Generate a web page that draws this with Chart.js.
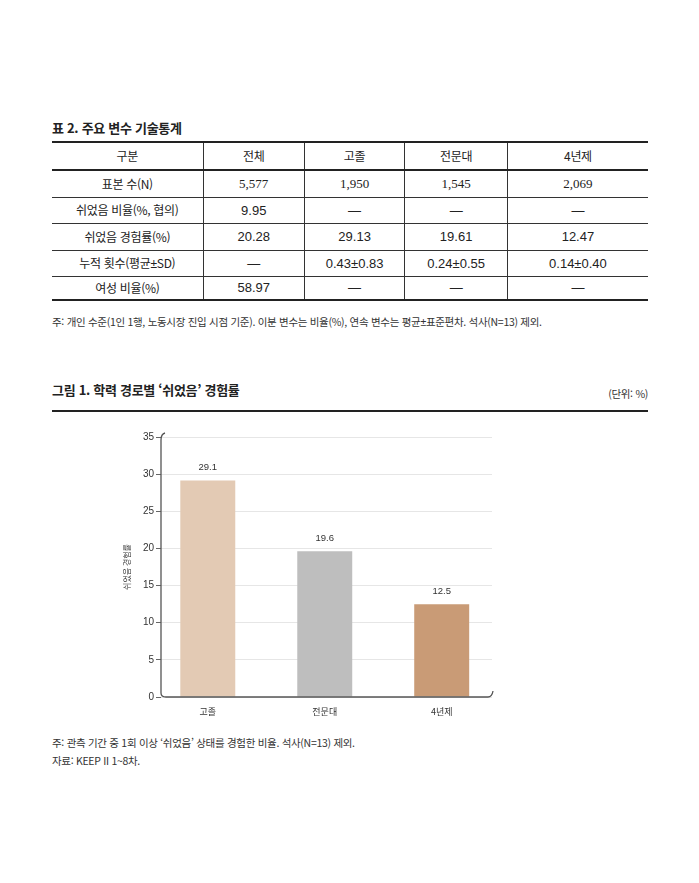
<!DOCTYPE html>
<html lang="ko">
<head>
<meta charset="utf-8">
<script src="https://cdn.jsdelivr.net/npm/chart.js@4.4.1/dist/chart.umd.min.js"></script>
<style>
  body { margin: 0; background: #fff; font-family: "Noto Sans CJK KR", "Noto Sans", sans-serif; color: #222; }
  .abs { position: absolute; white-space: nowrap; }
  .ttl { font-weight: bold; font-size: 13px; letter-spacing: -0.3px; }
  .note { font-size: 10.5px; color: #333; letter-spacing: -0.3px; }
  .pm { font-family: "Liberation Sans", sans-serif; }
  table { position: absolute; left: 52px; top: 141px; width: 596px; border-collapse: collapse; font-size: 12px; letter-spacing: -0.3px; }
  td { text-align: center; border-left: 1px solid #333; border-bottom: 1px solid #333; padding: 0; line-height: 1; }
  td:first-child { border-left: none; }
  td.num { font-family: "Liberation Sans Narrow", "Liberation Sans", sans-serif; font-size: 13px; letter-spacing: 0; }
  tr.head td { border-bottom: 2px solid #222; }
  tr.last td { border-bottom: 2px solid #222; }
  #chartBox { position: absolute; left: 100px; top: 425px; width: 400px; height: 300px; }
</style>
</head>
<body>
<div class="abs ttl" style="left:52px; top:118px;">표 2. 주요 변수 기술통계</div>
<table id="tbl"></table>
<div class="abs note" style="left:52px; top:314px;">주: 개인 수준(1인 1행, 노동시장 진입 시점 기준). 이분 변수는 비율(%), 연속 변수는 평균<span class="pm">±</span>표준편차. 석사(N=13) 제외.</div>

<div class="abs ttl" style="left:52px; top:380px;">그림 1. 학력 경로별 ‘쉬었음’ 경험률</div>
<div class="abs note" style="right:51px; top:386px;">(단위: %)</div>
<div class="abs" style="left:52px; top:410px; width:596px; height:2px; background:#222;"></div>

<div id="chartBox"><canvas id="canvasBar" width="400" height="300"></canvas></div>

<div class="abs note" style="left:52px; top:735px;">주: 관측 기간 중 1회 이상 ‘쉬었음’ 상태를 경험한 비율. 석사(N=13) 제외.</div>
<div class="abs note" style="left:52px; top:753px;">자료: KEEP II 1~8차.</div>

<script>
// 표 데이터
var tableHead = ['구분', '전체', '고졸', '전문대', '4년제'];
var rowNames = ['표본 수(N)', '쉬었음 비율(%, 협의)', '쉬었음 경험률(%)', '누적 횟수(평균<span class="pm">±</span>SD)', '여성 비율(%)'];
var colTotal = ['5,577', '9.95', '20.28', '—', '58.97'];
var colHigh = ['1,950', '—', '29.13', '0.43±0.83', '—'];
var colCollege = ['1,545', '—', '19.61', '0.24±0.55', '—'];
var colUniv = ['2,069', '—', '12.47', '0.14±0.40', '—'];

// 그림 데이터
var labels = ['고졸', '전문대', '4년제'];
var rates = [29.13, 19.61, 12.47];
var yTicks = [0, 5, 10, 15, 20, 25, 30, 35];

function buildTable() {
  var widths = [152, 101, 100, 102, 141];
  var heights = [28, 27, 26, 27, 26, 24];
  var tbl = document.getElementById('tbl');
  tbl.style.borderTop = '2px solid #222';
  var html = '<tr class="head" style="height:' + heights[0] + 'px">';
  tableHead.forEach(function (h, i) {
    html += '<td style="width:' + widths[i] + 'px">' + h + '</td>';
  });
  html += '</tr>';
  rowNames.forEach(function (name, r) {
    var cls = r === rowNames.length - 1 ? ' class="last"' : '';
    html += '<tr' + cls + ' style="height:' + heights[r + 1] + 'px">';
    html += '<td>' + name + '</td>';
    [colTotal, colHigh, colCollege, colUniv].forEach(function (col) {
      var serif = r === 0 ? ' style="font-family:\'Liberation Serif\',serif"' : '';
      html += '<td class="num"' + serif + '>' + col[r] + '</td>';
    });
    html += '</tr>';
  });
  tbl.innerHTML = html;
}
buildTable();

// 축 선 (끝이 살짝 휘어진 모양)
var axisLines = {
  id: 'axisLines',
  afterDraw: function (chart) {
    var a = chart.chartArea, c = chart.ctx;
    c.save();
    c.strokeStyle = '#555';
    c.lineWidth = 1.3;
    c.beginPath();
    c.moveTo(a.left + 4, a.top - 4);
    c.quadraticCurveTo(a.left, a.top - 3, a.left, a.top + 3);
    c.lineTo(a.left, a.bottom - 4);
    c.quadraticCurveTo(a.left, a.bottom, a.left + 5, a.bottom);
    c.lineTo(a.right - 4, a.bottom);
    c.quadraticCurveTo(a.right, a.bottom, a.right + 1, a.bottom - 6);
    c.stroke();
    c.restore();
  }
};

// 막대 위 값 표시
var barValues = {
  id: 'barValues',
  afterDatasetsDraw: function (chart) {
    var c = chart.ctx;
    var meta = chart.getDatasetMeta(0);
    c.save();
    c.font = '9.5px "Liberation Sans Narrow", "Liberation Sans", sans-serif';
    c.fillStyle = '#333';
    c.textAlign = 'center';
    c.textBaseline = 'bottom';
    meta.data.forEach(function (bar, i) {
      c.fillText(rates[i].toFixed(1), bar.x, bar.y - 8);
    });
    c.restore();
  }
};

var ctx = document.getElementById('canvasBar').getContext('2d');
var barChart = new Chart(ctx, {
  type: 'bar',
  data: {
    datasets: [{
      data: rates.map(function (v, i) { return { x: i, y: v }; }),
      backgroundColor: ['#E3CAB4', '#BEBEBE', '#C99B76'],
      barPercentage: 0.47,
      categoryPercentage: 1
    }]
  },
  options: {
    responsive: false,
    animation: false,
    devicePixelRatio: 1,
    layout: { padding: { top: 12, right: 8, left: 0, bottom: 0 } },
    plugins: { legend: { display: false }, tooltip: { enabled: false } },
    scales: {
      x: {
        type: 'linear',
        offset: false,
        min: -0.4, max: 2.43,
        grid: { display: false },
        border: { display: false },
        ticks: {
          stepSize: 1, includeBounds: false, autoSkip: false, maxRotation: 0,
          color: '#333', padding: 1,
          font: { size: 9, family: '"Noto Sans CJK KR", sans-serif' },
          callback: function (v) { return Number.isInteger(v) ? labels[v] : ''; }
        },
        afterFit: function (s) { s.height = 28; }
      },
      y: {
        min: 0, max: 35,
        afterBuildTicks: function (s) {
          s.ticks = yTicks.map(function (v) { return { value: v }; });
        },
        grid: { color: '#E6E6E6', tickColor: '#666', tickLength: 5, lineWidth: 1 },
        border: { display: false },
        ticks: {
          color: '#333', padding: 2,
          font: { size: 10, family: '"Liberation Sans Narrow", "Liberation Sans", sans-serif' }
        },
        title: {
          display: true, text: '쉬었음 경험률', color: '#333',
          font: { size: 8, family: '"Noto Sans CJK KR", sans-serif' },
          padding: { top: 22, bottom: 0 }
        },
        afterFit: function (s) { s.width = 61; }
      }
    }
  },
  plugins: [axisLines, barValues]
});
</script>
</body>
</html>
